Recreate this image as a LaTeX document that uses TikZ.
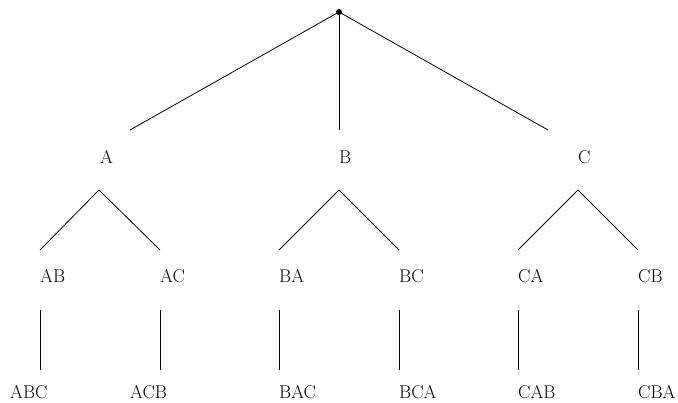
\documentclass[tikz,border=0pt]{standalone}
\begin{document}
\begin{tikzpicture}[x=1pt,y=-1pt,
  lbl/.style={anchor=west,inner sep=0pt,font=\fontsize{18.5}{22}\selectfont},
  edge/.style={line width=0.8pt}]
\useasboundingbox (0,0) rectangle (678,403);
% root
\fill (339,12) circle (3);
\coordinate (r) at (339,12);
% level 1 edge ends
\coordinate (ea) at (130,130);
\coordinate (eb) at (339,130);
\coordinate (ec) at (548,130);
\draw[edge] (r) -- (ea); \draw[edge] (r) -- (eb); \draw[edge] (r) -- (ec);
% level 1 labels
\node[lbl] (A) at (100,157) {A};
\node[lbl] (B) at (339,157) {B};
\node[lbl] (C) at (578,157) {C};
% apexes
\coordinate (pa) at (99,190);
\coordinate (pb) at (339,190);
\coordinate (pc) at (578,190);
\foreach \p/\l/\r in {pa/40/160, pb/279/399, pc/518/638}{
  \coordinate (\p l) at (\l,250);
  \coordinate (\p r) at (\r,250);
  \draw[edge] (\p l) -- (\p) -- (\p r);
}
% level 2 labels
\node[lbl] (AB) at (40,276) {AB};
\node[lbl] (AC) at (160,276) {AC};
\node[lbl] (BA) at (279,276) {BA};
\node[lbl] (BC) at (399,276) {BC};
\node[lbl] (CA) at (518,276) {CA};
\node[lbl] (CB) at (638,276) {CB};
% verticals
\foreach \x [count=\i] in {40,160,279,399,518,638}{
  \coordinate (t\i) at (\x,310);
  \coordinate (b\i) at (\x,370);
  \draw[edge] (t\i) -- (b\i);
}
% level 3 labels
\node[lbl] (ABC) at (10,392) {ABC};
\node[lbl] (ACB) at (130,392) {ACB};
\node[lbl] (BAC) at (279,392) {BAC};
\node[lbl] (BCA) at (399,392) {BCA};
\node[lbl] (CAB) at (518,392) {CAB};
\node[lbl] (CBA) at (638,392) {CBA};
\end{tikzpicture}
\end{document}
